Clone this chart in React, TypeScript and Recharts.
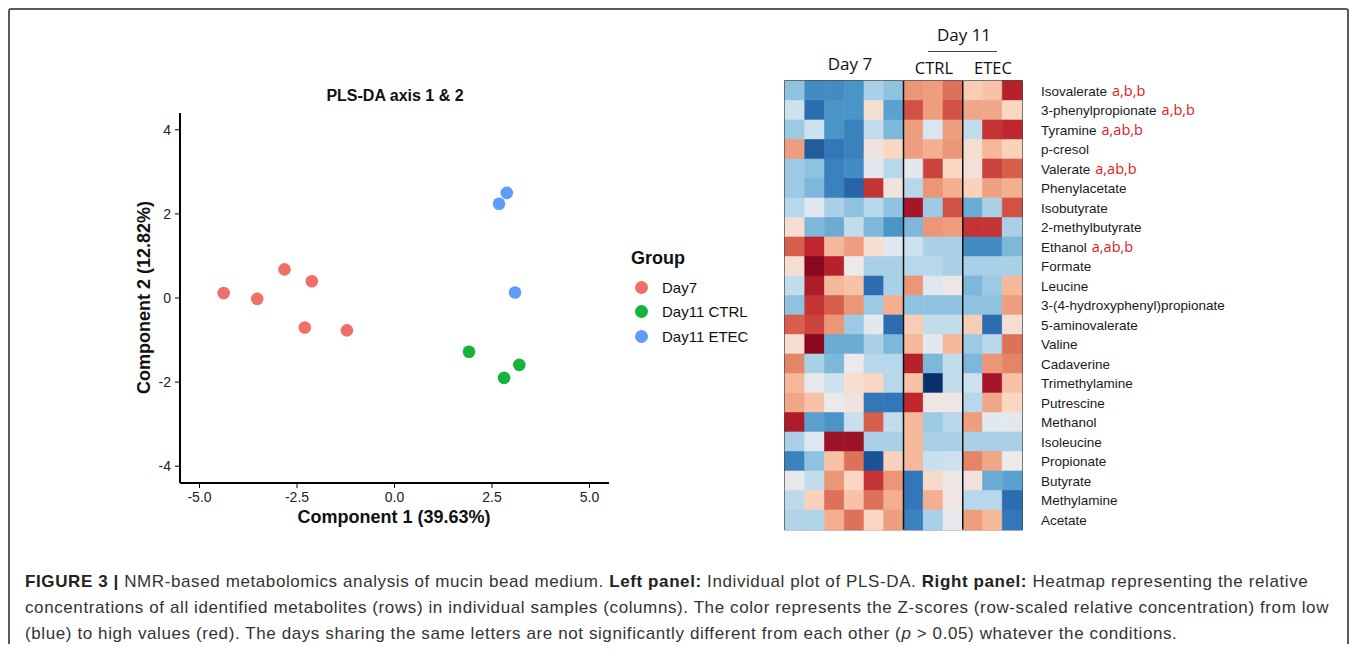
import {
  ScatterChart, Scatter, XAxis, YAxis,
  BarChart, Bar, Cell, ReferenceLine, ReferenceArea,
} from 'recharts'

// PLS-DA scores
const day7Points = [
  { x: -4.38, y: 0.12 },
  { x: -3.52, y: -0.02 },
  { x: -2.82, y: 0.68 },
  { x: -2.12, y: 0.40 },
  { x: -2.30, y: -0.70 },
  { x: -1.22, y: -0.77 },
]
const ctrlPoints = [
  { x: 1.91, y: -1.28 },
  { x: 2.81, y: -1.90 },
  { x: 3.20, y: -1.59 },
]
const etecPoints = [
  { x: 2.68, y: 2.24 },
  { x: 2.88, y: 2.50 },
  { x: 3.09, y: 0.13 },
]
const xTicks = [-5, -2.5, 0, 2.5, 5]
const yTicks = [-4, -2, 0, 2, 4]

const groups = [
  { name: 'Day7', color: '#F07069', data: day7Points },
  { name: 'Day11 CTRL', color: '#14B43C', data: ctrlPoints },
  { name: 'Day11 ETEC', color: '#5F9BF8', data: etecPoints },
]

// heatmap rows (top to bottom)
const metabolites = [
  'Isovalerate', '3-phenylpropionate', 'Tyramine', 'p-cresol', 'Valerate',
  'Phenylacetate', 'Isobutyrate', '2-methylbutyrate', 'Ethanol', 'Formate',
  'Leucine', '3-(4-hydroxyphenyl)propionate', '5-aminovalerate', 'Valine',
  'Cadaverine', 'Trimethylamine', 'Putrescine', 'Methanol', 'Isoleucine',
  'Propionate', 'Butyrate', 'Methylamine', 'Acetate',
]
const letters = [
  'a,b,b', 'a,b,b', 'a,ab,b', '', 'a,ab,b', '', '', '', 'a,ab,b', '', '', '',
  '', '', '', '', '', '', '', '', '', '', '',
]

// z-scores: 6 x Day 7 | 3 x Day 11 CTRL | 3 x Day 11 ETEC
const zScores = [
  [-0.8, -1.3, -1.3, -1.2, -0.6, -0.8, 1.0, 0.9, 1.2, 0.4, 0.5, 1.8],
  [-0.3, -1.6, -1.2, -1.2, 0.2, -1.1, 1.4, 0.9, 1.4, 0.8, 0.8, 0.3],
  [-0.7, -0.3, -1.2, -1.4, -0.4, -0.9, 0.9, -0.2, 0.9, -0.4, 1.6, 1.7],
  [0.9, -1.8, -1.5, -1.4, 0.1, 0.3, 0.9, 0.7, 1.0, 0.2, 0.6, 0.35],
  [-0.7, -0.8, -1.4, -1.3, -0.1, -0.5, -0.1, 1.5, 0.3, 0.15, 1.5, 1.3],
  [-0.7, -0.9, -1.4, -1.7, 1.6, 0.1, -0.5, 1.0, 0.7, 0.35, 0.85, 0.7],
  [-0.5, -0.15, -0.6, -0.8, -0.5, -0.8, 2.0, -0.7, 1.4, -1.0, -0.6, 1.4],
  [0.2, -0.9, -1.0, -0.4, -0.9, -1.2, -0.9, 1.0, 0.9, 1.6, 1.6, -0.6],
  [1.3, 1.7, 0.6, 0.9, 0.2, -0.1, -0.3, -0.6, -0.6, -1.3, -1.3, -0.9],
  [0.2, 2.3, 1.8, 0.0, -0.6, -0.6, -0.5, -0.5, -0.6, -0.6, -0.6, -0.6],
  [-0.4, 1.9, 0.6, 0.5, -1.6, -0.6, 1.0, -0.15, 0.05, -0.9, -0.7, 0.6],
  [-0.8, 1.6, 1.3, 1.0, -0.7, 0.7, -0.8, -0.8, -0.8, -0.8, -0.8, 0.9],
  [1.3, 1.5, 1.0, -0.7, -0.1, -1.6, 0.4, -0.4, -0.4, 0.4, -1.6, 0.2],
  [0.2, 2.3, -1.0, -1.0, -0.6, -0.9, 0.6, -0.1, 0.6, -0.7, -0.5, 1.2],
  [1.1, -0.6, -0.9, 0.0, -0.5, -0.5, 1.8, -0.9, -0.4, -0.9, 1.0, 1.1],
  [0.6, -0.05, -0.3, 0.2, 0.3, -0.5, 0.5, -2.3, -0.4, -0.3, 2.0, 0.5],
  [0.8, 0.5, 0.0, 0.1, -1.5, -1.5, 1.7, 0.05, 0.05, -0.5, 0.8, 0.3],
  [1.9, -1.1, -1.2, -0.35, 1.3, -0.4, 0.6, -0.7, -0.5, 0.9, -0.1, -0.1],
  [-0.6, -0.15, 2.1, 2.1, -0.6, -0.6, 0.6, -0.6, -0.6, -0.6, -0.6, -0.6],
  [-1.4, -0.8, 0.5, 1.2, -1.9, 0.35, 0.6, -0.35, -0.3, 1.1, 0.8, 0.0],
  [-0.05, -0.4, 1.0, 0.3, 1.6, 1.0, -1.5, 0.25, 0.05, 0.1, -1.0, -1.1],
  [-0.45, 0.35, 1.2, 0.5, 1.2, 0.7, -1.5, 0.7, 0.05, -0.5, -0.5, -1.6],
  [-0.55, -0.55, 0.7, 1.2, 0.3, 0.9, -1.4, -0.6, -0.05, 0.9, 0.6, -1.5],
]
const nCols = 12

// blue-white-red scale
const colorStops: [number, string][] = [
  [-2.3, '#08306b'], [-1.6, '#2c6db2'], [-1.2, '#4a95c8'], [-0.8, '#8ec2df'],
  [-0.5, '#b7d7ea'], [-0.2, '#d9e6f0'], [0, '#ebe9ea'], [0.3, '#fad7c3'],
  [0.65, '#f4b394'], [1.0, '#eb9677'], [1.3, '#d75f4c'], [1.7, '#bf262e'],
  [2.3, '#8a0921'],
]
function hexToRgb(h: string) {
  return [1, 3, 5].map(i => parseInt(h.slice(i, i + 2), 16))
}
function zColor(z: number) {
  if (z <= colorStops[0][0]) return colorStops[0][1]
  for (let i = 1; i < colorStops.length; i++) {
    const [v1, c1] = colorStops[i]
    if (z <= v1) {
      const [v0, c0] = colorStops[i - 1]
      const t = (z - v0) / (v1 - v0)
      const a = hexToRgb(c0), b = hexToRgb(c1)
      const m = a.map((v, k) => Math.round(v + (b[k] - v) * t))
      return `rgb(${m[0]},${m[1]},${m[2]})`
    }
  }
  return colorStops[colorStops.length - 1][1]
}

const heatData = metabolites.map((name, i) => {
  const row: any = { name, letters: letters[i] }
  for (let j = 0; j < nCols; j++) row[`c${j}`] = 1
  return row
})

const SANS = '"Liberation Sans", Arial, sans-serif'
const CALI = '"Open Sans", sans-serif'

function Dot(props: any) {
  const { cx, cy, fill } = props
  return <circle cx={cx} cy={cy} r={6.3} fill={fill} />
}

function RowTick(props: any) {
  const { x, y, payload } = props
  const idx = metabolites.indexOf(payload.value)
  const extra = letters[idx]
  return (
    <text x={x} y={y} dy={5} textAnchor="start" fontFamily={SANS} fontSize={13.5} fill="#1a1a1a">
      {payload.value}
      {extra && (
        <tspan dx={5} fill="#e0201b" fontFamily={CALI} fontSize={14.5}>{extra}</tspan>
      )}
    </text>
  )
}

const abs = (left: number, top: number, extra: any = {}) => ({ position: 'absolute' as const, left, top, ...extra })

export default function App() {
  return (
    <div style={{ position: 'relative', width: 1341, height: 636, overflow: 'hidden', background: '#fff' }}>
      <div style={{ position: 'absolute', left: 0, top: 0, width: 1341, height: 700, boxSizing: 'border-box', border: '2px solid #5a5a5a', borderRadius: 3 }} />

      {/* left panel: PLS-DA scores */}
      <div style={abs(0, 0)}>
        <ScatterChart width={640} height={560} margin={{ top: 105, right: 39, bottom: 55, left: 132 }}>
          <XAxis
            type="number" dataKey="x" domain={[-5.5, 5.5]} ticks={xTicks}
            tickFormatter={(v: number) => v.toFixed(1)}
            allowDataOverflow height={30}
            axisLine={{ stroke: '#000', strokeWidth: 2 }}
            tickLine={{ stroke: '#000' }} tickSize={5} tickMargin={4}
            tick={{ fontSize: 14, fill: '#222', fontFamily: SANS }}
          />
          <YAxis
            type="number" dataKey="y" domain={[-4.4, 4.4]} ticks={yTicks}
            allowDataOverflow width={40}
            axisLine={{ stroke: '#000', strokeWidth: 2 }}
            tickLine={{ stroke: '#000' }} tickSize={5} tickMargin={4}
            tick={{ fontSize: 14, fill: '#222', fontFamily: SANS }}
          />
          {groups.map(g => (
            <Scatter key={g.name} name={g.name} data={g.data} fill={g.color} shape={<Dot />} isAnimationActive={false} />
          ))}
        </ScatterChart>
      </div>
      <div style={abs(287, 79, { width: 200, textAlign: 'center', fontFamily: SANS, fontWeight: 'bold', fontSize: 16, color: '#111' })}>
        PLS-DA axis 1 &amp; 2
      </div>
      <div style={abs(236, 499, { width: 300, textAlign: 'center', fontFamily: SANS, fontWeight: 'bold', fontSize: 18, color: '#111' })}>
        Component 1 (39.63%)
      </div>
      <div style={abs(-14, 279, { width: 300, textAlign: 'center', fontFamily: SANS, fontWeight: 'bold', fontSize: 18, color: '#111', transform: 'rotate(-90deg)' })}>
        Component 2 (12.82%)
      </div>

      {/* legend */}
      <div style={abs(615, 235, { width: 160, height: 110, fontFamily: SANS })}>
        <div style={{ position: 'absolute', left: 8, top: 4, fontSize: 18, fontWeight: 'bold', color: '#111', lineHeight: '22px' }}>
          Group
        </div>
        {groups.map((g, i) => (
          <div key={g.name} style={{ position: 'absolute', left: 12, top: 33 + i * 24.7, height: 22, display: 'flex', alignItems: 'center' }}>
            <span style={{ width: 13, height: 13, borderRadius: '50%', background: g.color, display: 'inline-block' }} />
            <span style={{ marginLeft: 14, fontSize: 15, color: '#111' }}>{g.name}</span>
          </div>
        ))}
      </div>

      {/* right panel: heatmap */}
      <div style={abs(700, 0)}>
        <BarChart
          width={640} height={560} layout="vertical" data={heatData}
          margin={{ top: 73, right: 46, bottom: 38.5, left: 77 }}
          barCategoryGap={0} barGap={0}
        >
          <XAxis type="number" domain={[0, nCols]} hide />
          <YAxis
            type="category" dataKey="name" orientation="right" width={280}
            axisLine={false} tickLine={false} tickSize={0} tickMargin={19}
            interval={0} tick={<RowTick />}
          />
          {Array.from({ length: nCols }, (_, j) => (
            <Bar key={j} dataKey={`c${j}`} stackId="h" isAnimationActive={false}>
              {zScores.map((row, i) => (
                <Cell key={i} fill={zColor(row[j])} stroke={zColor(row[j])} strokeWidth={0.6} />
              ))}
            </Bar>
          ))}
          <ReferenceLine x={6} stroke="#111" strokeWidth={1.5} />
          <ReferenceLine x={9} stroke="#111" strokeWidth={1.5} />
          <ReferenceArea x1={0} x2={nCols} fill="none" fillOpacity={0} stroke="#111" strokeWidth={1.5} />
        </BarChart>
      </div>
      <div style={abs(792, 45, { width: 100, textAlign: 'center', fontFamily: CALI, fontSize: 17, color: '#111', lineHeight: '22px' })}>Day 7</div>
      <div style={abs(906, 16, { width: 100, textAlign: 'center', fontFamily: CALI, fontSize: 17, color: '#111', lineHeight: '22px' })}>Day 11</div>
      <div style={abs(920, 43, { width: 69, height: 0, borderTop: '1.5px solid #444' })} />
      <div style={abs(886, 49, { width: 80, textAlign: 'center', fontFamily: CALI, fontSize: 16.5, color: '#111', lineHeight: '22px' })}>CTRL</div>
      <div style={abs(945, 49, { width: 80, textAlign: 'center', fontFamily: CALI, fontSize: 16.5, color: '#111', lineHeight: '22px' })}>ETEC</div>

      {/* caption */}
      <div style={abs(17, 561, { fontFamily: SANS, fontSize: 17, letterSpacing: 0.6, lineHeight: '26px', color: '#333', whiteSpace: 'nowrap' })}>
        <b style={{ color: '#222' }}>FIGURE 3 |</b> NMR-based metabolomics analysis of mucin bead medium. <b style={{ color: '#222' }}>Left panel:</b> Individual plot of PLS-DA. <b style={{ color: '#222' }}>Right panel:</b> Heatmap representing the relative<br />
        concentrations of all identified metabolites (rows) in individual samples (columns). The color represents the Z-scores (row-scaled relative concentration) from low<br />
        (blue) to high values (red). The days sharing the same letters are not significantly different from each other (<i>p</i> &gt; 0.05) whatever the conditions.
      </div>
    </div>
  )
}
